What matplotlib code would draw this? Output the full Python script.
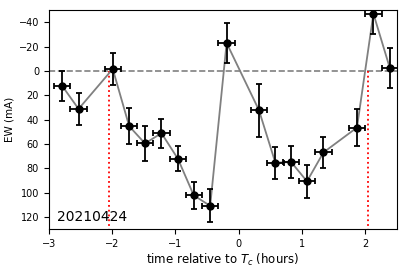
import matplotlib
matplotlib.use("Agg")
import matplotlib.pyplot as plt

# Datos
tiempo = [-2.79, -2.53, -1.99, -1.73, -1.48, -1.22, -0.96, -0.71, -0.45,
          -0.19, 0.32, 0.58, 0.83, 1.08, 1.34, 1.87, 2.13, 2.39]
ew = [12.3, 31.3, -1.6, 45.5, 59.7, 51.2, 72.3, 102.3, 111.0,
      -22.9, 32.2, 75.5, 75.0, 90.8, 67.1, 46.6, -47.0, -2.2]
ew_err = [12.5, 13.5, 13.0, 14.8, 14.7, 12.0, 10.2, 11.2, 13.6,
          16.5, 21.8, 13.2, 13.3, 13.8, 12.7, 15.5, 16.4, 16.4]
t_err = 0.13
contactos = [-2.05, 2.05]
fecha = "20210424"

fig = plt.figure(figsize=(4.07, 2.71), dpi=100)
ax = fig.add_axes([0.12, 0.155, 0.855, 0.808])

ax.axhline(0, color="gray", ls="--", lw=1.2, zorder=1)
ax.plot(tiempo, ew, color="gray", lw=1.3, zorder=2)
ax.errorbar(tiempo, ew, yerr=ew_err, xerr=t_err, fmt="o", color="black",
            ms=5, capsize=2.5, elinewidth=1.3, capthick=1.3, zorder=3)
for tc in contactos:
    ax.plot([tc, tc], [0, 130], color="red", ls=":", lw=1.3, zorder=1)

ax.text(-2.87, 120, fecha, fontsize=10, va="center")

ax.set_xlim(-3, 2.5)
ax.set_ylim(130, -50)
ax.set_yticks([-40, -20, 0, 20, 40, 60, 80, 100, 120])
ax.tick_params(labelsize=7)
ax.set_ylabel("EW (mA)", fontsize=7.5)
ax.yaxis.set_label_coords(-0.1, 0.5)
ax.set_xlabel("time relative to $T_c$ (hours)", fontsize=8.5, labelpad=2)

plt.savefig("out.png", dpi=100)
